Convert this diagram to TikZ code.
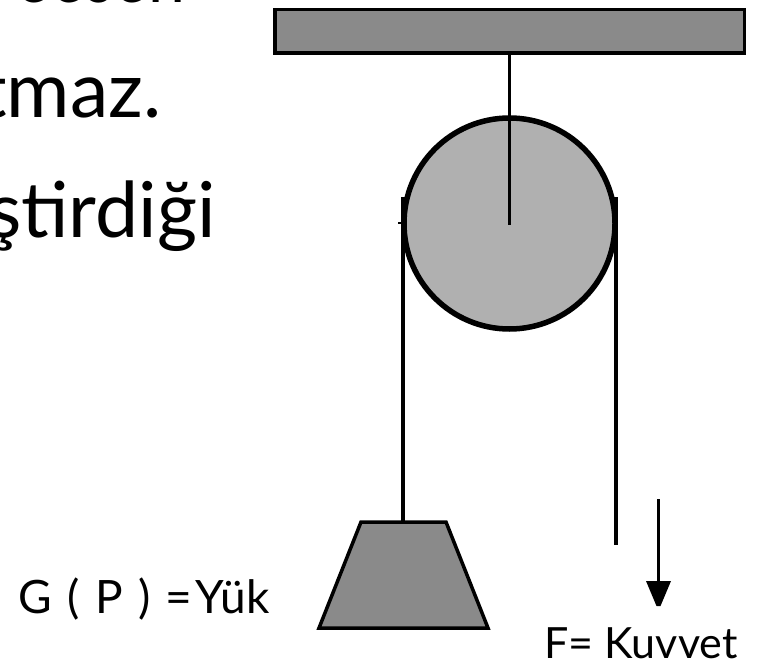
\documentclass[tikz,border=0pt]{standalone}
\usepackage{fontspec}
\setmainfont{Lato}
\definecolor{beamgray}{HTML}{8A8A8A}
\definecolor{wheelgray}{HTML}{B0B0B0}
\tikzset{
  part/.style={draw=black,line join=miter},
  rope/.style={draw=black,line width=4pt},
  bigtext/.style={inner sep=0pt,anchor=base west,font=\fontsize{77}{77}\selectfont},
  smalltext/.style={inner sep=0pt,anchor=base west,font=\fontsize{43}{43}\selectfont},
  loadtext/.style={inner sep=0pt,anchor=base west,font=\fontsize{46}{46}\selectfont},
}
\begin{document}
\begin{tikzpicture}[x=1pt,y=-1pt]
\useasboundingbox (0,0) rectangle (765,663);
\begin{scope}
\clip (0,0) rectangle (765,663);
\node[bigtext,xscale=0.86] (t1) at (15,3) {eesen};
\node[bigtext] (t2) at (-21,118) {tmaz.};
\node[bigtext] (t3) at (-12,237) {ştirdiği};
\end{scope}
\node[part,fill=beamgray,line width=3.5pt,minimum width=469.5pt,minimum height=43.5pt,inner sep=0pt] (beam) at (509.5,31.5) {};
\node[part,circle,fill=wheelgray,line width=5.5pt,minimum size=211pt,inner sep=0pt] (wheel) at (509.5,223.5) {};
\coordinate (hub) at (509.5,225);
\draw[draw=black,line width=3pt] (beam.south -| hub) -- (hub);
\coordinate (ltop) at (403,197);
\coordinate (rtop) at (615.5,197);
\coordinate (rend) at (615.5,545);
\draw[part,fill=beamgray,line width=3.5pt] (361,522) -- (446,522) -- (488,628) -- (319,628) -- cycle;
\draw[rope] (ltop) -- (403,522) coordinate (lend);
\draw[rope] (rtop) -- (rend);
\draw[draw=black,line width=1.5pt] (398,223) -- (406,223);
\coordinate (fa) at (658.5,499);
\coordinate (fb) at (658.5,606);
\draw[draw=black,line width=2.5pt] (fa) -- (fb);
\fill[black] (646,581) -- (671,581) -- (660.5,606) -- (656.5,606) -- cycle;
\node[loadtext] (g) at (18,613) {\spaceskip=15.5pt G ( P ) =\hspace{3pt}Yük};
\node[smalltext] (f) at (544,658) {F= Kuvvet};
\end{tikzpicture}
\end{document}
